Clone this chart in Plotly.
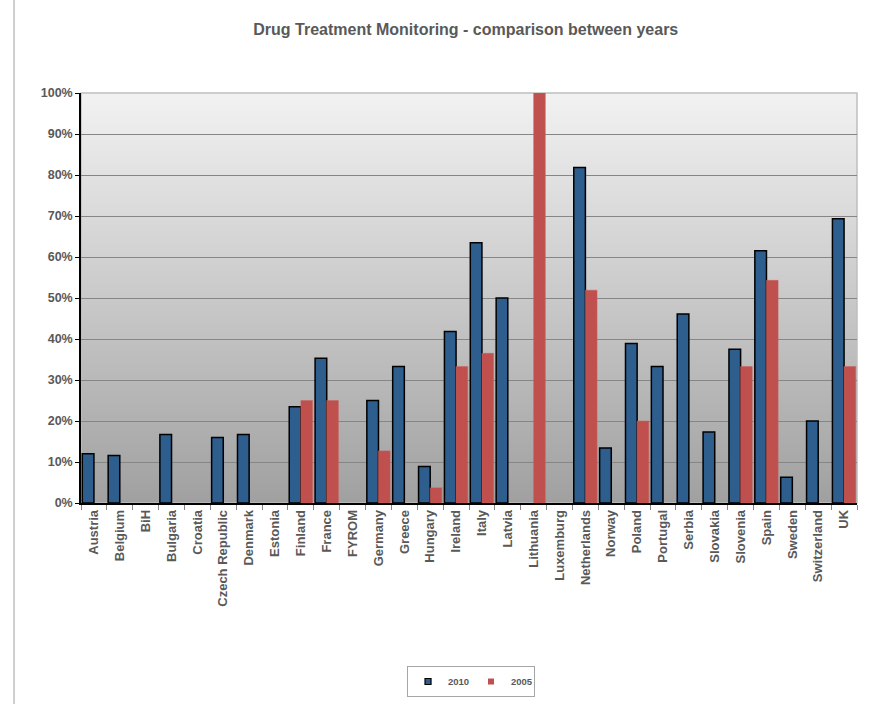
import plotly.graph_objects as go

countries = ["Austria", "Belgium", "BiH", "Bulgaria", "Croatia", "Czech Republic", "Denmark",
             "Estonia", "Finland", "France", "FYROM", "Germany", "Greece", "Hungary", "Ireland",
             "Italy", "Latvia", "Lithuania", "Luxemburg", "Netherlands", "Norway", "Poland",
             "Portugal", "Serbia", "Slovakia", "Slovenia", "Spain", "Sweden", "Switzerland", "UK"]
v2010 = [0.12, 0.116, None, 0.167, None, 0.16, 0.167, None, 0.235, 0.353, None, 0.25, 0.333,
         0.089, 0.418, 0.635, 0.50, None, None, 0.818, 0.134, 0.389, 0.333, 0.461, 0.173,
         0.375, 0.615, 0.063, 0.20, 0.693]
v2005 = [None, None, None, None, None, None, None, None, 0.25, 0.25, None, 0.127, None,
         0.037, 0.333, 0.365, None, 1.0, None, 0.519, None, 0.20, None, None, None,
         0.333, 0.543, None, None, 0.333]

C2010 = "#2E5E8E"
C2005 = "#C0504D"
FONT = "Arial, Liberation Sans"

fig = go.Figure()
fig.add_trace(go.Bar(name="2010", x=countries, y=v2010, showlegend=False,
                     marker=dict(color=C2010, line=dict(color="#000000", width=1.5))))
fig.add_trace(go.Bar(name="2005", x=countries, y=v2005, showlegend=False,
                     marker=dict(color=C2005, line=dict(color="#C9605D", width=0.5))))
# legend entries with small square symbols
fig.add_trace(go.Scatter(name="<b>2010</b>", x=[None], y=[None], mode="markers",
                         marker=dict(symbol="square", size=6, color=C2010,
                                     line=dict(color="#000000", width=1.2))))
fig.add_trace(go.Scatter(name="<b>2005</b>", x=[None], y=[None], mode="markers",
                         marker=dict(symbol="square", size=6, color=C2005,
                                     line=dict(width=0))))

# gradient background bands
shapes = []
n = 205
top = (242, 242, 242)
bot = (160, 160, 160)
for i in range(n):
    t = (i + 0.5) / n
    c = tuple(round(top[k] + (bot[k] - top[k]) * t) for k in range(3))
    shapes.append(dict(type="rect", xref="x domain", yref="y domain",
                       x0=0, x1=1, y0=1 - (i + 1) / n, y1=1 - i / n,
                       fillcolor="rgb(%d,%d,%d)" % c, line=dict(width=0), layer="below"))
shapes.append(dict(type="rect", xref="x domain", yref="y domain", x0=0, x1=1, y0=0, y1=1,
                   line=dict(color="#BFBFBF", width=1.5), fillcolor="rgba(0,0,0,0)", layer="below"))
shapes.append(dict(type="line", xref="paper", yref="paper", x0=-0.0863, x1=-0.0863,
                   y0=-0.5, y1=1.24, line=dict(color="#BFBFBF", width=1.5)))

fig.update_layout(
    width=869, height=704,
    margin=dict(l=81, r=12, t=93, b=201, autoexpand=False),
    paper_bgcolor="white", plot_bgcolor="rgba(0,0,0,0)",
    barmode="group", bargap=0.1, bargroupgap=0,
    title=dict(text="<b>Drug Treatment Monitoring - comparison between years</b>",
               x=0.536, xanchor="center", y=0.9588, yanchor="middle",
               font=dict(family=FONT, size=16, color="#595959")),
    font=dict(family=FONT, color="#595959"),
    shapes=shapes,
    showlegend=True,
    legend=dict(orientation="h", x=0.5026, xanchor="center", y=-0.3976, yanchor="top",
                bordercolor="#A6A6A6", borderwidth=1, bgcolor="white",
                font=dict(size=9.5, color="#595959", family=FONT),
                itemwidth=30, tracegroupgap=0, entrywidth=18),
    xaxis=dict(type="category", tickangle=-90, ticks="outside", tickson="boundaries",
               ticklen=5, tickcolor="#868686", showline=True, linecolor="#000000", linewidth=1.5,
               tickfont=dict(size=13, color="#595959", family=FONT),
               showgrid=False, automargin=False, range=[-0.5, 29.5]),
    yaxis=dict(range=[0, 1], dtick=0.1, tickformat=".0%", ticks="outside", ticklen=4,
               tickcolor="#000000", showline=True, linecolor="#000000", linewidth=1.5,
               showgrid=True, gridcolor="#868686", gridwidth=1, zeroline=False,
               automargin=False,
               tickfont=dict(size=12.5, color="#595959", family=FONT)),
)
fig.update_xaxes(tickprefix="<b>", ticksuffix="</b>")
fig.update_yaxes(tickprefix="<b>", ticksuffix="</b>")

fig.write_html("out.html", config={"displayModeBar": False},
               post_script="document.body.style.margin='0';document.body.style.overflow='hidden';")
